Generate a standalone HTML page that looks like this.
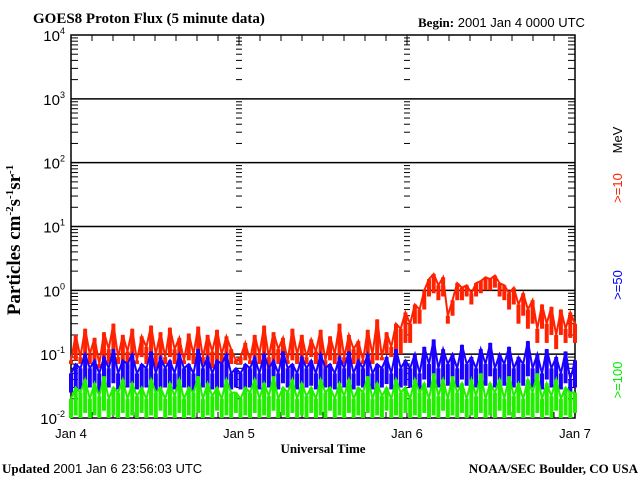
<!DOCTYPE html>
<html><head><meta charset="utf-8"><style>
body{margin:0;background:#fff;width:640px;height:480px;overflow:hidden}
svg{display:block}
text{font-family:"Liberation Sans",sans-serif}
.serif{font-family:"Liberation Serif",serif;font-weight:bold}
</style></head><body>
<svg id="c" width="640" height="480">
<text class="serif" x="33" y="23" font-size="15">GOES8 Proton Flux (5 minute data)</text>
<text x="418" y="27" font-size="13"><tspan class="serif">Begin:</tspan> 2001 Jan 4 0000 UTC</text>
<text class="serif" x="20" y="240" font-size="19" transform="rotate(-90 20 240)" text-anchor="middle" font-weight="normal">Particles cm<tspan dy="-7" font-size="11">-2</tspan><tspan dy="7">s</tspan><tspan dy="-7" font-size="11">-1</tspan><tspan dy="7">sr</tspan><tspan dy="-7" font-size="11">-1</tspan></text>
<text class="serif" x="323" y="453" font-size="13" text-anchor="middle">Universal Time</text>
<text x="2" y="473" font-size="13"><tspan class="serif">Updated</tspan> 2001 Jan  6 23:56:03 UTC</text>
<text class="serif" x="638" y="473" font-size="13" text-anchor="end">NOAA/SEC Boulder, CO USA</text>
<g font-size="13">
<text x="622" y="140" transform="rotate(-90 622 140)" fill="#000" text-anchor="middle">MeV</text>
<text x="622" y="188" transform="rotate(-90 622 188)" fill="#ff2200" text-anchor="middle">&gt;=10</text>
<text x="622" y="285" transform="rotate(-90 622 285)" fill="#0000ff" text-anchor="middle">&gt;=50</text>
<text x="622" y="380" transform="rotate(-90 622 380)" fill="#00ee00" text-anchor="middle">&gt;=100</text>
</g>
<g id="axes"></g>
<g id="series"></g>
</svg>
<script>
const dayLabels=["Jan 4","Jan 5","Jan 6","Jan 7"];
const decadeExps=[-2,-1,0,1,2,3,4];
const redHi=[0.08,0.2,0.09,0.25,0.1,0.18,0.07,0.22,0.12,0.3,0.09,0.2,0.11,0.25,0.08,0.19,0.13,0.28,0.1,0.22,0.09,0.26,0.12,0.18,0.08,0.21,0.1,0.27,0.09,0.2,0.11,0.24,0.1,0.19,0.12,0.08,
0.09,0.15,0.08,0.2,0.1,0.28,0.09,0.22,0.12,0.18,0.08,0.25,0.1,0.2,0.09,0.17,0.11,0.24,0.08,0.19,0.1,0.3,0.09,0.2,0.12,0.16,0.08,0.24,0.1,0.35,0.09,0.22,0.13,0.3,0.25,0.45,
0.3,0.6,0.5,1.0,1.5,1.8,1.2,1.6,0.4,0.7,1.3,1.1,1.2,0.9,1.3,1.4,1.6,1.5,1.7,1.3,1.2,0.9,1.1,0.6,0.9,0.5,0.7,0.25,0.6,0.3,0.55,0.2,0.5,0.25,0.45,0.3];
const redLo=[0.07,0.08,0.07,0.09,0.07,0.08,0.06,0.08,0.07,0.09,0.07,0.08,0.07,0.08,0.07,0.09,0.07,0.08,0.06,0.08,0.07,0.09,0.07,0.08,0.07,0.08,0.07,0.09,0.07,0.08,0.06,0.08,0.07,0.09,0.07,0.07,
0.07,0.08,0.07,0.09,0.07,0.08,0.06,0.08,0.07,0.09,0.07,0.08,0.07,0.08,0.07,0.09,0.07,0.08,0.06,0.08,0.07,0.09,0.07,0.08,0.07,0.08,0.07,0.09,0.07,0.08,0.08,0.1,0.09,0.12,0.1,0.15,
0.15,0.3,0.3,0.5,0.8,0.9,0.7,0.8,0.3,0.4,0.7,0.7,0.8,0.6,0.8,0.9,1.0,1.0,1.1,0.8,0.7,0.5,0.6,0.3,0.4,0.25,0.3,0.15,0.25,0.15,0.2,0.12,0.2,0.15,0.18,0.15];
const blueHi=[0.05,0.07,0.06,0.1,0.06,0.08,0.05,0.09,0.06,0.12,0.05,0.08,0.07,0.1,0.05,0.07,0.06,0.11,0.05,0.09,0.06,0.08,0.05,0.1,0.06,0.07,0.05,0.12,0.06,0.09,0.05,0.08,0.07,0.1,0.05,0.06,
0.05,0.07,0.06,0.09,0.05,0.1,0.06,0.08,0.05,0.11,0.06,0.07,0.05,0.09,0.06,0.08,0.05,0.1,0.06,0.07,0.05,0.09,0.06,0.11,0.05,0.08,0.06,0.1,0.05,0.07,0.06,0.09,0.05,0.12,0.06,0.08,
0.06,0.1,0.05,0.13,0.07,0.17,0.06,0.12,0.07,0.1,0.06,0.14,0.07,0.09,0.06,0.12,0.07,0.15,0.06,0.1,0.07,0.13,0.06,0.09,0.07,0.16,0.06,0.1,0.05,0.12,0.06,0.09,0.05,0.11,0.04,0.08];
const blueLo=[0.025,0.03,0.028,0.035,0.03,0.03,0.025,0.032,0.03,0.035,0.028,0.03,0.03,0.035,0.028,0.03,0.03,0.034,0.026,0.03,0.03,0.033,0.028,0.035,0.03,0.03,0.027,0.035,0.03,0.032,0.028,0.03,0.03,0.035,0.028,0.03,
0.028,0.03,0.03,0.034,0.028,0.035,0.03,0.032,0.028,0.035,0.03,0.03,0.028,0.033,0.03,0.032,0.028,0.035,0.03,0.03,0.028,0.034,0.03,0.035,0.028,0.032,0.03,0.035,0.028,0.03,0.03,0.034,0.028,0.035,0.03,0.032,
0.03,0.035,0.028,0.04,0.03,0.045,0.03,0.04,0.032,0.035,0.03,0.04,0.032,0.035,0.03,0.04,0.032,0.045,0.03,0.035,0.032,0.04,0.03,0.035,0.032,0.045,0.03,0.035,0.028,0.04,0.03,0.035,0.028,0.035,0.025,0.03];
const greenHi=[0.02,0.03,0.025,0.04,0.02,0.035,0.022,0.045,0.02,0.03,0.025,0.04,0.02,0.035,0.022,0.03,0.02,0.04,0.025,0.03,0.02,0.035,0.022,0.04,0.02,0.03,0.025,0.045,0.02,0.035,0.022,0.03,0.02,0.04,0.025,0.025,
0.02,0.03,0.025,0.04,0.02,0.035,0.022,0.045,0.02,0.03,0.025,0.04,0.02,0.035,0.022,0.03,0.02,0.04,0.025,0.03,0.02,0.035,0.022,0.04,0.02,0.03,0.025,0.045,0.02,0.035,0.022,0.03,0.02,0.04,0.025,0.03,
0.02,0.04,0.025,0.035,0.02,0.05,0.022,0.04,0.02,0.045,0.025,0.035,0.02,0.04,0.022,0.05,0.02,0.035,0.025,0.04,0.02,0.045,0.022,0.035,0.02,0.04,0.025,0.05,0.02,0.035,0.022,0.04,0.02,0.03,0.025,0.025];
const greenLo=[0.01,0.011,0.01,0.012,0.01,0.011,0.01,0.013,0.01,0.011,0.01,0.012,0.01,0.011,0.01,0.012,0.01,0.011,0.01,0.013,0.01,0.011,0.01,0.012,0.01,0.011,0.01,0.012,0.01,0.011,0.01,0.013,0.01,0.011,0.01,0.012,
0.01,0.011,0.01,0.012,0.01,0.011,0.01,0.013,0.01,0.011,0.01,0.012,0.01,0.011,0.01,0.012,0.01,0.011,0.01,0.013,0.01,0.011,0.01,0.012,0.01,0.011,0.01,0.012,0.01,0.011,0.01,0.013,0.01,0.011,0.01,0.012,
0.01,0.011,0.01,0.012,0.01,0.011,0.01,0.013,0.01,0.011,0.01,0.012,0.01,0.011,0.01,0.012,0.01,0.011,0.01,0.013,0.01,0.011,0.01,0.012,0.01,0.011,0.01,0.012,0.01,0.011,0.01,0.013,0.01,0.011,0.01,0.012];
const X0=71,X1=575,Y0=418,Y1=35;
const days=3;
function xs(t){return X0+(X1-X0)*t/days;}
function ys(v){const l=Math.log10(v);return Y0-(l-decadeExps[0])/(decadeExps[decadeExps.length-1]-decadeExps[0])*(Y0-Y1);}
const NS="http://www.w3.org/2000/svg";
function mk(tag,attrs,parent){const e=document.createElementNS(NS,tag);for(const k in attrs)e.setAttribute(k,attrs[k]);parent.appendChild(e);return e;}
const ax=document.getElementById('axes');
const frame=mk('rect',{x:X0,y:Y1,width:X1-X0,height:Y0-Y1,fill:'none',stroke:'#000','stroke-width':1.5},ax);


decadeExps.forEach((e,i)=>{
  const y=ys(Math.pow(10,e));
  if(i>0&&i<decadeExps.length-1){const g=mk('line',{x1:X0,x2:X1,y1:y,y2:y,stroke:'#000','stroke-width':1.5},ax);
  
  }
  const t=mk('text',{x:X0-6,y:y+6,'text-anchor':'end','font-size':15},ax);
  
  
  t.textContent='10';
  const s=mk('tspan',{dy:-7,'font-size':9},t);s.textContent=e;
  if(i<decadeExps.length-1){
    for(let m=2;m<=9;m++){const yy=ys(m*Math.pow(10,e));
      [X0,X1-7].forEach(xx=>mk('line',{x1:xx,x2:xx+7,y1:yy,y2:yy,stroke:'#000'},ax));
      [xs(1),xs(2)].forEach(xx=>mk('line',{x1:xx-3,x2:xx+3,y1:yy,y2:yy,stroke:'#000'},ax));
    }
  }
});
for(let h=0;h<=72;h+=3){const x=xs(h/24);const big=h%24==0;
  mk('line',{x1:x,x2:x,y1:Y0,y2:Y0-(big?10:6),stroke:'#000'},ax);
  mk('line',{x1:x,x2:x,y1:Y1,y2:Y1+(big?10:6),stroke:'#000'},ax);}
dayLabels.forEach((d,i)=>{const t=mk('text',{x:xs(i),y:438,'text-anchor':'middle','font-size':13},ax);
  
  
  t.textContent=d;});
const sg=document.getElementById('series');
[[redHi,redLo,'#ff2200','series-10mev'],[blueHi,blueLo,'#1a00ff','series-50mev'],[greenHi,greenLo,'#22ee00','series-100mev']].forEach(([hi,lo,col,nm])=>{
  const g=mk('g',{},sg);
  
  
  const n=hi.length;
  hi.forEach((v,i)=>{
    const x=xs(i*days/(n-1));
    const b=mk('line',{x1:x,x2:x,y1:ys(lo[i]),y2:ys(v),stroke:col,'stroke-width':4},g);
    
    
  });
  const pts=hi.map((v,i)=>xs(i*days/(n-1)).toFixed(1)+','+ys(v).toFixed(1)).join(' ');
  mk('polyline',{points:pts,fill:'none',stroke:col,'stroke-width':2},g);
});
</script>
</body></html>
